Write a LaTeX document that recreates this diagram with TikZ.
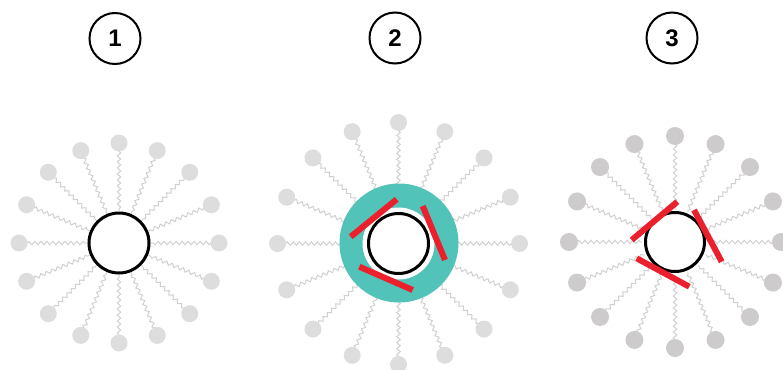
\documentclass[tikz,border=0pt]{standalone}
\usepackage{fontspec}
\setmainfont{Liberation Sans}
\usetikzlibrary{decorations.pathmorphing,calc}
\definecolor{headlight}{RGB}{221,221,221}
\definecolor{headdark}{RGB}{205,203,204}
\definecolor{tailgray}{RGB}{208,208,208}
\definecolor{shell}{RGB}{82,195,184}
\definecolor{strand}{RGB}{236,32,44}
\tikzset{
  tail/.style={draw=tailgray, line width=1pt,
    decorate, decoration={snake, segment length=6pt, amplitude=1.7pt}},
  core/.style={draw=black, line width=3pt, fill=white},
  bar/.style={draw=strand, line width=6pt, line cap=butt},
  badge/.style={circle, draw=black, line width=2pt, minimum size=51pt,
    inner sep=0pt, font=\fontsize{24}{24}\selectfont\bfseries},
}
% one ring of sixteen lipids: centre, head distance, tail end distance, head radius, head colour
\newcommand{\lipidring}[5]{%
  \foreach \k in {0,...,15}{%
    \pgfmathsetmacro{\ang}{90+22.5*\k}%
    \draw[tail] ($(#1)+(\ang:#2pt-8pt)$) -- ($(#1)+(\ang:#3pt)$);
    \fill[#5] ($(#1)+(\ang:#2pt)$) circle (#4pt);
  }%
}
\begin{document}
\begin{tikzpicture}[x=1pt,y=-1pt]
  \useasboundingbox (0,0) rectangle (783,369);

  % step labels
  \node[badge] (n1) at (115,38.5) {1};
  \node[badge] (n2) at (395,38) {2};
  \node[badge] (n3) at (672,38) {3};

  % panel 1: bare particle
  \coordinate (c1) at (119,243);
  \lipidring{c1}{100}{32}{8.5}{headlight}
  \draw[core] (c1) circle (30pt);

  % panel 2: coated particle
  \coordinate (c2) at (398.5,243.5);
  \lipidring{c2}{121}{55}{8.5}{headlight}
  \fill[shell] (399,243) circle (59.5pt);
  \fill[white] (c2) circle (36pt);
  \draw[core] (c2) circle (30pt);
  \draw[bar] (350.7,236.7) -- (396.7,199.3);
  \draw[bar] (422.7,206) -- (445,260);
  \draw[bar] (359.3,266.7) -- (412.7,290);

  % panel 3: particle with strands
  \coordinate (c3) at (675,242);
  \lipidring{c3}{106}{33}{9}{headdark}
  \draw[core] (c3) circle (29.5pt);
  \draw[bar] (631.7,240) -- (677.3,201.7);
  \draw[bar] (694,210) -- (721.7,261.7);
  \draw[bar] (636.7,258.3) -- (689.3,286.7);
\end{tikzpicture}
\end{document}
